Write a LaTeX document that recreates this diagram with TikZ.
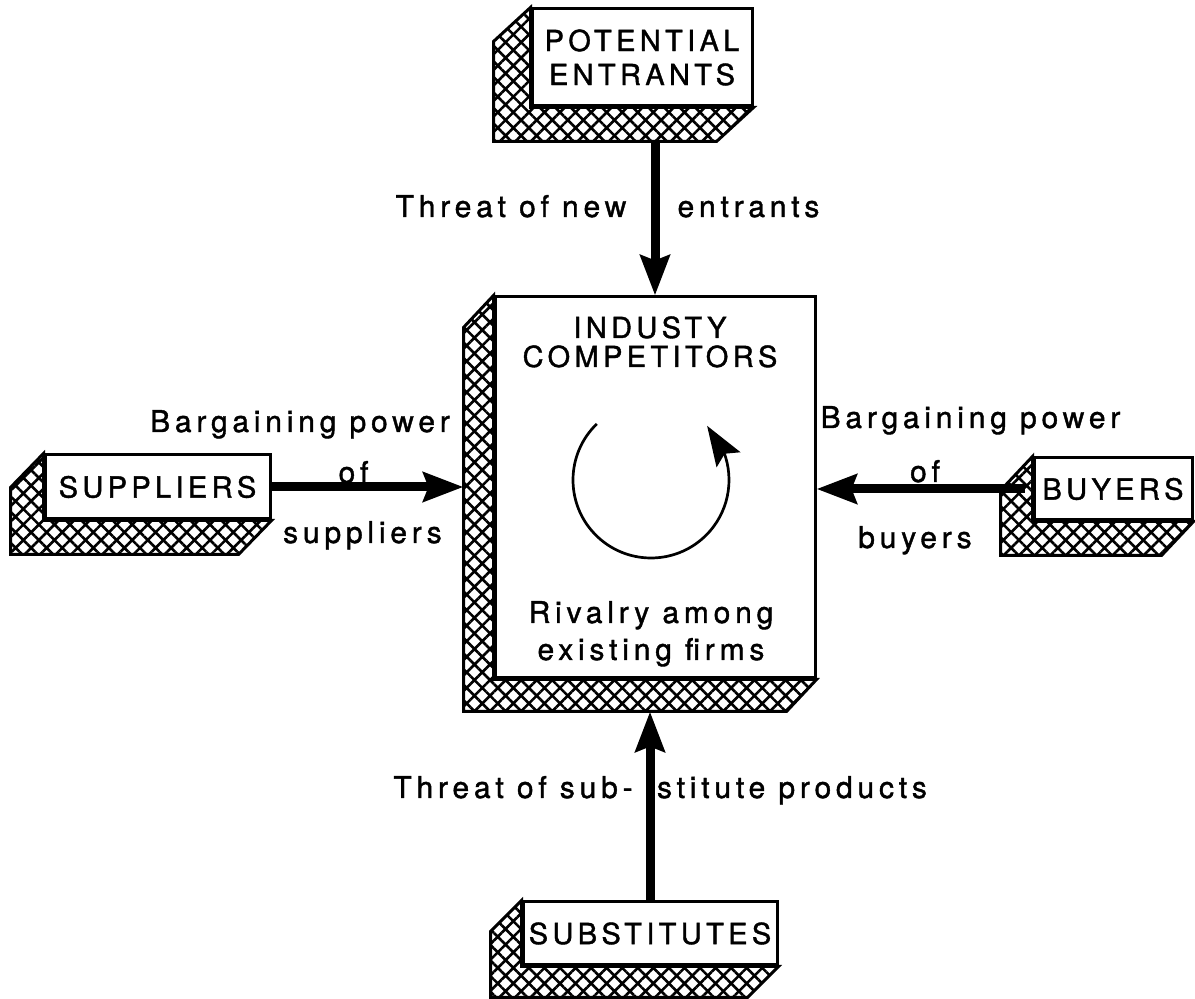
\documentclass[tikz,border=0pt]{standalone}
\usepackage{fontspec}
\setmainfont{TeX Gyre Heros}
\newfontfamily\capsfont[LetterSpace=15, FakeBold=1.3]{TeX Gyre Heros}
\newfontfamily\labelfont[LetterSpace=16, FakeBold=1.3]{TeX Gyre Heros}
\usetikzlibrary{arrows.meta, bending, backgrounds, calc, patterns.meta}
\tikzstyle{force} = [line width=9pt, -{Stealth[length=40pt,width=29pt,inset=5pt]}]
\tikzstyle{rivalry} = [line width=2.7pt, -{Stealth[length=40pt,width=28pt,inset=7pt]}]
\tikzset{front/.style={
    draw, line width=3pt, fill=white, inner sep=0pt, align=center,
    font=\capsfont\fontsize{29}{34}\selectfont,
  },
  hatch/.style={
    line width=3pt, line join=miter,
    pattern={Hatch[angle=45,distance=11pt,line width=2.6pt]},
  },
  lbl/.style={inner sep=0pt, anchor=base, font=\labelfont\fontsize{30}{37}\selectfont},
}
\newcommand{\boxshadow}[3]{%
  \draw[hatch] (#1.north west) -- ++(-#2,-#3) -- ($(#1.south west)+(-#2,-#3)$)
    -- ($(#1.south east)+(-#2,-#3)$) -- (#1.south east) -- (#1.south west) -- cycle;
}

\begin{document}
\begin{tikzpicture}[x=1pt, y=1pt]
    \useasboundingbox (0,0) rectangle (1195,999);

    \node[front, minimum width=220pt, minimum height=97pt] (entrants) at (642,941.5) {POTENTIAL\\ENTRANTS};
    \node[front, minimum width=225pt, minimum height=64pt] (suppliers) at (157.5,512) {SUPPLIERS};
    \node[front, minimum width=158pt, minimum height=62pt] (buyers) at (1113,510) {BUYERS};
    \node[front, minimum width=320pt, minimum height=381pt] (industry) at (655,511.5) {};
    \node[front, minimum width=254pt, minimum height=63pt] (substitutes) at (650,65.5) {SUBSTITUTES};

    % hatched sides of the boxes
    \begin{scope}[on background layer]
        \fill[white] (0,0) rectangle (1195,999);
        \boxshadow{entrants}{37}{34}
        \boxshadow{suppliers}{33}{34}
        \boxshadow{buyers}{32}{34}
        \boxshadow{industry}{30}{32}
        \boxshadow{substitutes}{31}{31}
    \end{scope}

    \coordinate (entbase) at ($(entrants.south)+(0,-34)$);
    \coordinate (indbase) at ($(industry.south west)+(-30,-32)$);

    \draw[force] (industry.north |- entbase) -- (industry.north);
    \draw[force] (suppliers.east) -- (suppliers.east -| indbase);
    \draw[force, shorten <=8pt] (buyers.west) -- (buyers.west -| industry.east);
    \draw[force] (substitutes.north) -- (substitutes.north |- indbase);

    \node[front, draw=none, fill=none, font=\capsfont\fontsize{29}{29}\selectfont, anchor=base] (indtitle) at (650,632) {INDUSTY\\COMPETITORS};
    \coordinate (hub) at (651,519);
    \draw[rivalry] ($(hub)+(134:78)$) arc[start angle=134, end angle=404, radius=78pt];
    \node[lbl, align=center] (rivalrytext) at (651,339) {Rivalry among\\existing firms};

    \node[lbl] (newl) at (511,782) {Threat of new};
    \node[lbl] (newr) at (748.5,782) {entrants};
    \node[lbl] (subl) at (513,201) {Threat of sub-};
    \node[lbl] (subr) at (792,201) {stitute products};
    \node[lbl] (supa) at (300,567) {Bargaining power};
    \node[lbl] (supb) at (353.5,516) {of};
    \node[lbl] (supc) at (362.5,456) {suppliers};
    \node[lbl] (buya) at (970.5,571) {Bargaining power};
    \node[lbl] (buyb) at (925,517) {of};
    \node[lbl] (buyc) at (915,451) {buyers};
\end{tikzpicture}
\end{document}
